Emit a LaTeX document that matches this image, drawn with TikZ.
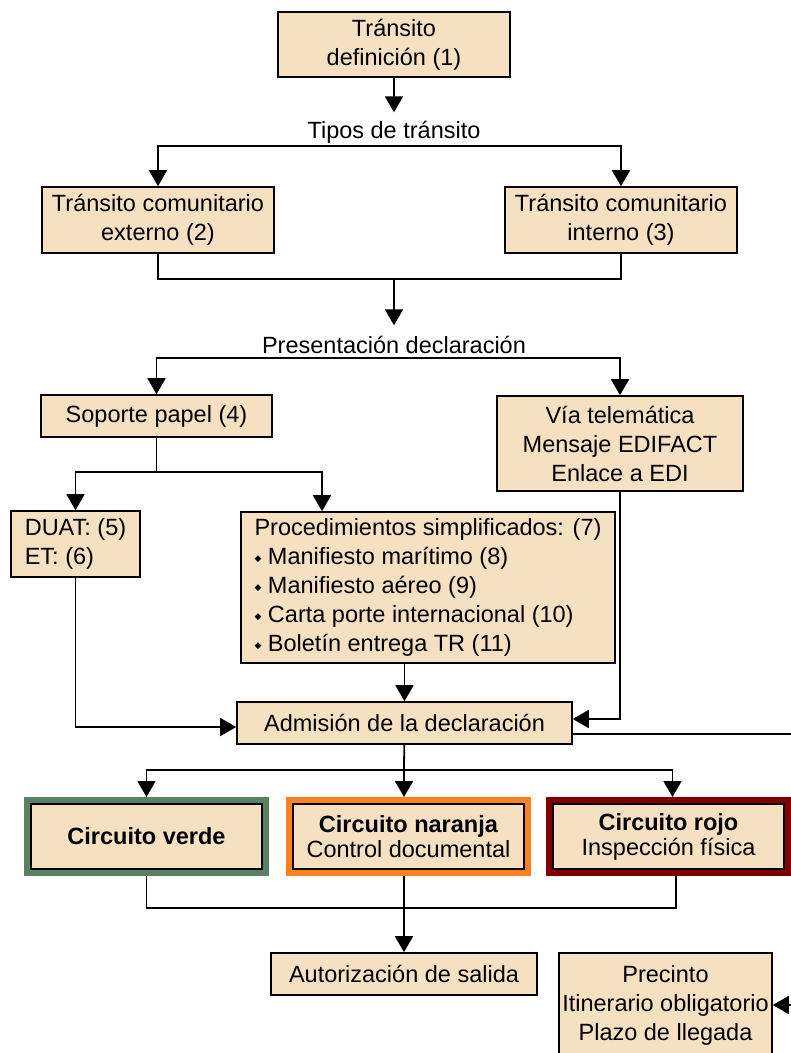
\documentclass[tikz,border=0pt]{standalone}
\usepackage{fontspec}
\setmainfont{Liberation Sans}
\newfontfamily\symfont{DejaVu Sans}
\usetikzlibrary{arrows.meta}

\definecolor{boxfill}{RGB}{245,224,193}
\definecolor{vgreen}{RGB}{92,128,100}
\definecolor{vorange}{RGB}{255,128,32}
\definecolor{vred}{RGB}{128,0,0}

\newcommand{\itm}{\raisebox{3pt}{\symfont\fontsize{9}{9}\selectfont ◆}\ }

\begin{document}
\begin{tikzpicture}[
    x=1pt, y=-1pt,
    font=\fontsize{23.5}{29}\selectfont,
    boxstyle/.style  = {draw,
                        line width=1.6pt,
                        fill=boxfill,
                        inner sep=0pt,
                        align=center},
    lbl/.style       = {inner sep=0pt,
                        minimum height=39pt},
    circuit/.style   = {boxstyle,
                        preaction={draw=#1, line width=14pt},
                        outer sep=7pt,
                        minimum width=231pt,
                        minimum height=65pt},
    arr/.style       = {line width=1.8pt,
                        -{Triangle[width=18pt,length=16pt]}},
    con/.style       = {line width=1.8pt}
]
\useasboundingbox (0,0) rectangle (791,1053);
\clip (0,0) rectangle (791,1053);

\node (def) [boxstyle, minimum width=232pt, minimum height=65pt] at (394,44.5)
    {Tránsito\\definición (1)};
\node (tipos) [lbl] at (394,132) {Tipos de tránsito};

\node (ext) [boxstyle, minimum width=232pt, minimum height=66pt] at (158,220)
    {Tránsito comunitario\\externo (2)};
\node (int) [boxstyle, minimum width=232pt, minimum height=66pt] at (621,220)
    {Tránsito comunitario\\interno (3)};

\node (pres) [lbl] at (394,345) {Presentación declaración};

\node (papel) [boxstyle, minimum width=231pt, minimum height=42pt] at (156.5,416)
    {Soporte papel (4)};
\node (via) [boxstyle, minimum width=246pt, minimum height=95pt] at (620,443.5)
    {Vía telemática\\Mensaje EDIFACT\\Enlace a EDI};

\node (duat) [boxstyle, align=left, minimum width=129pt, minimum height=66pt] at (75.5,544)
    {DUAT: (5)\\ET: (6)};
\node (proc) [boxstyle, align=left, minimum width=374pt, minimum height=151pt] at (428,587.5)
    {Procedimientos simplificados: (7)\\
     \itm Manifiesto marítimo (8)\\
     \itm Manifiesto aéreo (9)\\
     \itm Carta porte internacional (10)\\
     \itm Boletín entrega TR (11)};

\node (adm) [boxstyle, minimum width=335pt, minimum height=42pt] at (404.5,723)
    {Admisión de la declaración};

\node (verde) [circuit=vgreen] at (146.5,836.5) {\textbf{Circuito verde}};
\node (naranja) [circuit=vorange] at (408.5,836.5)
    {\textbf{Circuito naranja}\\[-4pt]Control documental};
\node (rojo) [circuit=vred] at (668.5,836.5)
    {\textbf{Circuito rojo}\\[-4pt]Inspección física};

\node (aut) [boxstyle, minimum width=266pt, minimum height=42pt] at (404,974)
    {Autorización de salida};
\node (prec) [boxstyle, minimum width=213pt, minimum height=104pt] at (665.5,1005)
    {Precinto\\Itinerario obligatorio\\Plazo de llegada};

% junction points
\coordinate (t)  at (394,146);
\coordinate (j1) at (394,279);
\coordinate (p)  at (394,358);
\coordinate (s)  at (156.5,472);
\coordinate (s2) at (322,472);
\coordinate (c)  at (404,770);
\coordinate (k)  at (404,908);
\coordinate (k2) at (676,908);
\coordinate (out1) at (791,734);
\coordinate (out2) at (791,1005);

\draw[arr] (def) -- (tipos);
\draw[arr] (t) -| (ext);
\draw[arr] (t) -| (int);

\draw[con] (ext) |- (j1) -| (int);
\draw[arr] (j1) -- (pres);
\draw[arr] (p) -| (papel);
\draw[arr] (p) -| (via);

\draw[con] (papel) -- (s);
\draw[arr] (s) -| (duat);
\draw[arr] (s) -| (s2 |- proc.north);

\draw[arr] (adm.north |- proc.south) -- (adm.north);
\draw[arr] (duat) |- ([yshift=-4pt]adm.west);
\draw[arr] (via) |- ([yshift=4pt]adm.east);
\draw[con] (adm.east |- out1) -- (out1);

\draw[con] (adm) -- (c);
\draw[arr] (c) -| (verde);
\draw[arr] (c) -- (c |- naranja.north);
\draw[arr] (c) -| ([xshift=4pt]rojo.north);

\draw[con] (verde) |- (k2) -- (k2 |- rojo.south);
\draw[con] (k |- naranja.south) -- (k);
\draw[arr] (k) -- (aut);

\draw[arr] (out2) -- (prec.east |- out2);

\end{tikzpicture}
\end{document}
